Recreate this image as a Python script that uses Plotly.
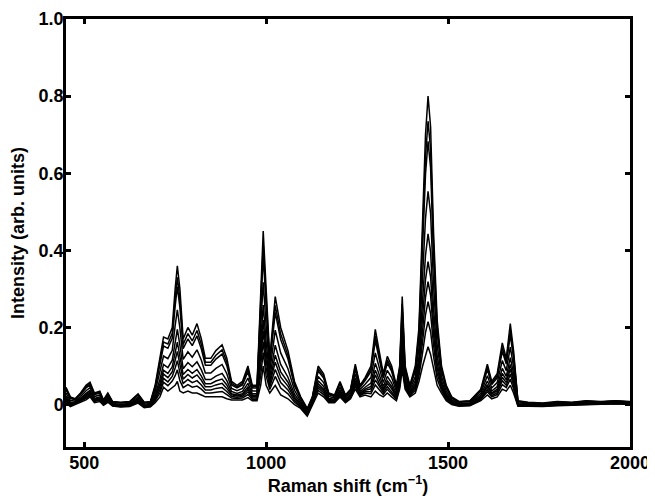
import plotly.graph_objects as go

# Raman shift axis (cm^-1), shared by every spectrum
wavenumber = [450, 462, 475, 490, 505, 516, 528, 543, 553, 565,
              578, 600, 625, 648, 665, 682, 695, 708, 718, 730,
              742, 750, 756, 763, 772, 785, 797, 810, 822, 833,
              848, 862, 879, 892, 905, 920, 935, 950, 962, 975,
              985, 992, 1000, 1010, 1025, 1040, 1060, 1078, 1095, 1113,
              1127, 1143, 1158, 1172, 1188, 1203, 1218, 1232, 1245, 1258,
              1272, 1288, 1300, 1312, 1322, 1333, 1345, 1358, 1367, 1374,
              1382, 1395, 1410, 1420, 1430, 1438, 1445, 1452, 1460, 1470,
              1482, 1495, 1510, 1530, 1560, 1590, 1608, 1620, 1635, 1649,
              1660, 1671, 1680, 1692, 1720, 1760, 1800, 1840, 1880, 1920,
              1960, 2000]

spectrum_01 = [0.045, 0.020, 0.015, 0.030, 0.050, 0.058, 0.030, 0.035, 0.012, 0.030,
               0.008, 0.006, 0.008, 0.028, 0.006, 0.008, 0.050, 0.120, 0.175, 0.170,
               0.200, 0.300, 0.360, 0.300, 0.170, 0.200, 0.180, 0.210, 0.170, 0.120,
               0.120, 0.140, 0.155, 0.120, 0.060, 0.050, 0.060, 0.100, 0.050, 0.050,
               0.300, 0.450, 0.300, 0.120, 0.280, 0.200, 0.140, 0.060, 0.020, -0.010,
               0.020, 0.100, 0.080, 0.030, 0.025, 0.060, 0.025, 0.040, 0.105, 0.050,
               0.070, 0.100, 0.195, 0.130, 0.080, 0.125, 0.100, 0.050, 0.100, 0.280,
               0.100, 0.050, 0.100, 0.200, 0.450, 0.700, 0.800, 0.720, 0.450, 0.220,
               0.100, 0.050, 0.020, 0.008, 0.010, 0.040, 0.105, 0.060, 0.080, 0.160,
               0.120, 0.210, 0.140, 0.010, 0.006, 0.004, 0.008, 0.006, 0.010, 0.008,
               0.010, 0.008]
spectrum_02 = [0.041, 0.018, 0.014, 0.028, 0.046, 0.054, 0.028, 0.032, 0.011, 0.028,
               0.007, 0.005, 0.007, 0.026, 0.005, 0.007, 0.046, 0.110, 0.162, 0.157,
               0.185, 0.275, 0.330, 0.274, 0.156, 0.184, 0.165, 0.192, 0.156, 0.110,
               0.110, 0.128, 0.142, 0.110, 0.055, 0.046, 0.055, 0.092, 0.046, 0.046,
               0.275, 0.415, 0.275, 0.111, 0.257, 0.183, 0.128, 0.054, 0.017, -0.012,
               0.018, 0.093, 0.074, 0.028, 0.023, 0.056, 0.023, 0.038, 0.099, 0.047,
               0.066, 0.092, 0.179, 0.120, 0.074, 0.116, 0.092, 0.046, 0.094, 0.261,
               0.094, 0.047, 0.093, 0.186, 0.415, 0.643, 0.735, 0.661, 0.414, 0.203,
               0.093, 0.046, 0.018, 0.007, 0.009, 0.037, 0.097, 0.056, 0.074, 0.148,
               0.112, 0.194, 0.129, 0.009, 0.005, 0.003, 0.007, 0.005, 0.009, 0.007,
               0.009, 0.007]
spectrum_03 = [0.038, 0.016, 0.012, 0.026, 0.043, 0.051, 0.026, 0.030, 0.010, 0.026,
               0.006, 0.004, 0.006, 0.024, 0.004, 0.006, 0.042, 0.102, 0.152, 0.146,
               0.172, 0.255, 0.306, 0.252, 0.145, 0.170, 0.153, 0.178, 0.144, 0.102,
               0.102, 0.118, 0.131, 0.101, 0.051, 0.043, 0.051, 0.085, 0.043, 0.043,
               0.255, 0.387, 0.255, 0.104, 0.239, 0.169, 0.118, 0.049, 0.015, -0.014,
               0.016, 0.087, 0.069, 0.026, 0.021, 0.053, 0.021, 0.036, 0.093, 0.045,
               0.062, 0.086, 0.166, 0.111, 0.069, 0.108, 0.086, 0.043, 0.089, 0.246,
               0.089, 0.045, 0.087, 0.175, 0.387, 0.597, 0.683, 0.614, 0.385, 0.189,
               0.087, 0.043, 0.016, 0.006, 0.008, 0.035, 0.091, 0.052, 0.069, 0.138,
               0.105, 0.181, 0.120, 0.008, 0.004, 0.002, 0.006, 0.005, 0.008, 0.007,
               0.009, 0.007]
spectrum_04 = [0.030, 0.011, 0.009, 0.021, 0.036, 0.044, 0.021, 0.025, 0.007, 0.021,
               0.003, 0.001, 0.003, 0.019, 0.001, 0.003, 0.033, 0.082, 0.126, 0.119,
               0.141, 0.205, 0.246, 0.199, 0.117, 0.137, 0.123, 0.142, 0.115, 0.082,
               0.082, 0.094, 0.104, 0.080, 0.042, 0.036, 0.042, 0.069, 0.035, 0.035,
               0.205, 0.317, 0.205, 0.086, 0.193, 0.134, 0.093, 0.037, 0.009, -0.018,
               0.012, 0.073, 0.057, 0.021, 0.017, 0.045, 0.017, 0.031, 0.080, 0.039,
               0.053, 0.070, 0.134, 0.090, 0.057, 0.089, 0.070, 0.035, 0.077, 0.208,
               0.077, 0.039, 0.073, 0.147, 0.317, 0.483, 0.553, 0.496, 0.313, 0.155,
               0.073, 0.035, 0.012, 0.003, 0.005, 0.029, 0.075, 0.043, 0.057, 0.114,
               0.088, 0.149, 0.098, 0.005, 0.002, 0.001, 0.004, 0.003, 0.006, 0.005,
               0.007, 0.005]
spectrum_05 = [0.023, 0.006, 0.007, 0.016, 0.029, 0.037, 0.016, 0.020, 0.004, 0.017,
               0.001, -0.001, 0.001, 0.015, -0.002, 0.000, 0.025, 0.065, 0.104, 0.096,
               0.115, 0.163, 0.195, 0.154, 0.093, 0.109, 0.098, 0.111, 0.090, 0.065,
               0.065, 0.074, 0.081, 0.062, 0.034, 0.029, 0.034, 0.055, 0.028, 0.028,
               0.163, 0.258, 0.163, 0.071, 0.154, 0.104, 0.071, 0.027, 0.004, -0.021,
               0.009, 0.062, 0.047, 0.016, 0.014, 0.038, 0.014, 0.026, 0.069, 0.034,
               0.045, 0.056, 0.107, 0.072, 0.047, 0.073, 0.056, 0.028, 0.067, 0.176,
               0.067, 0.034, 0.062, 0.123, 0.258, 0.387, 0.443, 0.396, 0.252, 0.127,
               0.062, 0.028, 0.009, 0.001, 0.003, 0.024, 0.061, 0.035, 0.047, 0.094,
               0.073, 0.122, 0.080, 0.002, 0.001, -0.001, 0.002, 0.002, 0.005, 0.004,
               0.006, 0.004]
spectrum_06 = [0.019, 0.004, 0.005, 0.014, 0.025, 0.033, 0.014, 0.017, 0.003, 0.014,
               0.000, -0.002, -0.001, 0.012, -0.003, -0.001, 0.020, 0.054, 0.089, 0.081,
               0.098, 0.135, 0.162, 0.125, 0.078, 0.091, 0.081, 0.091, 0.074, 0.054,
               0.054, 0.061, 0.066, 0.051, 0.028, 0.025, 0.028, 0.046, 0.024, 0.024,
               0.135, 0.219, 0.135, 0.061, 0.128, 0.085, 0.058, 0.020, 0.000, -0.023,
               0.007, 0.054, 0.040, 0.014, 0.012, 0.034, 0.012, 0.024, 0.062, 0.030,
               0.040, 0.047, 0.089, 0.061, 0.040, 0.062, 0.047, 0.024, 0.060, 0.155,
               0.060, 0.030, 0.054, 0.108, 0.219, 0.324, 0.371, 0.331, 0.212, 0.108,
               0.054, 0.024, 0.007, 0.000, 0.001, 0.020, 0.052, 0.030, 0.040, 0.081,
               0.064, 0.104, 0.067, 0.001, -0.001, -0.002, 0.001, 0.001, 0.003, 0.003,
               0.005, 0.003]
spectrum_07 = [0.015, 0.002, 0.004, 0.012, 0.022, 0.030, 0.012, 0.015, 0.002, 0.012,
               -0.001, -0.003, -0.002, 0.010, -0.004, -0.002, 0.017, 0.046, 0.079, 0.070,
               0.085, 0.115, 0.138, 0.104, 0.066, 0.078, 0.069, 0.077, 0.063, 0.046,
               0.046, 0.051, 0.055, 0.042, 0.025, 0.022, 0.025, 0.039, 0.020, 0.020,
               0.115, 0.191, 0.115, 0.053, 0.110, 0.071, 0.048, 0.016, -0.002, -0.025,
               0.005, 0.048, 0.036, 0.012, 0.010, 0.030, 0.010, 0.022, 0.057, 0.028,
               0.037, 0.041, 0.077, 0.052, 0.036, 0.055, 0.041, 0.020, 0.056, 0.139,
               0.056, 0.028, 0.048, 0.096, 0.191, 0.278, 0.319, 0.283, 0.184, 0.094,
               0.048, 0.020, 0.005, -0.001, 0.000, 0.018, 0.046, 0.027, 0.036, 0.071,
               0.057, 0.092, 0.059, 0.000, -0.001, -0.003, 0.000, 0.000, 0.003, 0.002,
               0.004, 0.002]
spectrum_08 = [0.012, 0.000, 0.003, 0.010, 0.019, 0.027, 0.010, 0.013, 0.001, 0.010,
               -0.002, -0.004, -0.003, 0.008, -0.006, -0.004, 0.013, 0.038, 0.068, 0.059,
               0.073, 0.095, 0.114, 0.083, 0.055, 0.065, 0.057, 0.062, 0.051, 0.038,
               0.038, 0.042, 0.044, 0.034, 0.021, 0.019, 0.021, 0.033, 0.017, 0.017,
               0.095, 0.163, 0.095, 0.046, 0.091, 0.057, 0.038, 0.011, -0.005, -0.026,
               0.004, 0.043, 0.031, 0.010, 0.009, 0.027, 0.009, 0.020, 0.052, 0.025,
               0.033, 0.034, 0.064, 0.044, 0.031, 0.047, 0.034, 0.017, 0.051, 0.124,
               0.051, 0.025, 0.043, 0.085, 0.163, 0.233, 0.267, 0.236, 0.155, 0.081,
               0.043, 0.017, 0.004, -0.002, -0.001, 0.015, 0.039, 0.023, 0.031, 0.062,
               0.050, 0.079, 0.050, -0.002, -0.002, -0.003, -0.001, -0.001, 0.002, 0.001,
               0.003, 0.001]
spectrum_09 = [0.009, -0.003, 0.002, 0.008, 0.016, 0.024, 0.008, 0.011, -0.001, 0.008,
               -0.003, -0.005, -0.004, 0.006, -0.007, -0.005, 0.010, 0.030, 0.058, 0.049,
               0.061, 0.075, 0.090, 0.062, 0.044, 0.052, 0.045, 0.048, 0.040, 0.030,
               0.030, 0.032, 0.034, 0.026, 0.017, 0.016, 0.017, 0.026, 0.014, 0.014,
               0.075, 0.135, 0.075, 0.039, 0.073, 0.043, 0.028, 0.006, -0.007, -0.028,
               0.002, 0.037, 0.026, 0.008, 0.007, 0.024, 0.007, 0.018, 0.047, 0.023,
               0.030, 0.028, 0.051, 0.036, 0.026, 0.040, 0.028, 0.014, 0.046, 0.109,
               0.046, 0.023, 0.037, 0.074, 0.135, 0.187, 0.215, 0.189, 0.126, 0.067,
               0.037, 0.014, 0.002, -0.003, -0.002, 0.013, 0.033, 0.020, 0.026, 0.052,
               0.044, 0.066, 0.041, -0.003, -0.003, -0.004, -0.002, -0.001, 0.001, 0.001,
               0.003, 0.001]
spectrum_10 = [0.005, -0.005, 0.000, 0.005, 0.012, 0.020, 0.005, 0.008, -0.002, 0.006,
               -0.004, -0.006, -0.005, 0.004, -0.008, -0.006, 0.005, 0.020, 0.045, 0.035,
               0.045, 0.050, 0.060, 0.035, 0.030, 0.035, 0.030, 0.030, 0.025, 0.020,
               0.020, 0.020, 0.020, 0.015, 0.012, 0.012, 0.012, 0.018, 0.010, 0.010,
               0.050, 0.100, 0.050, 0.030, 0.050, 0.025, 0.015, 0.000, -0.010, -0.030,
               0.000, 0.030, 0.020, 0.005, 0.005, 0.020, 0.005, 0.015, 0.040, 0.020,
               0.025, 0.020, 0.035, 0.025, 0.020, 0.030, 0.020, 0.010, 0.040, 0.090,
               0.040, 0.020, 0.030, 0.060, 0.100, 0.130, 0.150, 0.130, 0.090, 0.050,
               0.030, 0.010, 0.000, -0.004, -0.003, 0.010, 0.025, 0.015, 0.020, 0.040,
               0.035, 0.050, 0.030, -0.004, -0.004, -0.005, -0.003, -0.002, 0.000, 0.000,
               0.002, 0.000]

spectra = [spectrum_01, spectrum_02, spectrum_03, spectrum_04, spectrum_05,
           spectrum_06, spectrum_07, spectrum_08, spectrum_09, spectrum_10]

x_ticks = [500, 1000, 1500, 2000]
y_ticks = [0, 0.2, 0.4, 0.6, 0.8, 1.0]
y_tick_labels = ["0", "0.2", "0.4", "0.6", "0.8", "1.0"]

fig = go.Figure()
for s in spectra:
    fig.add_trace(go.Scatter(x=wavenumber, y=s, mode="lines",
                             line=dict(color="black", width=1.5),
                             showlegend=False, hoverinfo="skip"))

axis_style = dict(showline=True, linecolor="black", linewidth=2.5,
                  mirror="ticks", ticks="inside", ticklen=5, tickwidth=2.5,
                  tickcolor="black", showgrid=False, zeroline=False,
                  automargin=False,
                  tickfont=dict(size=18, color="black", weight="bold"))

# the page body adds an 8px margin, so the figure is a bit smaller than the window
fig.update_layout(
    width=647, height=490, autosize=False,
    margin=dict(l=58, r=25, t=11, b=51),
    paper_bgcolor="white", plot_bgcolor="white",
    font=dict(family="Liberation Sans, Arial, sans-serif", color="black"),
    xaxis=dict(range=[450, 2000], tickvals=x_ticks, ticklabelstandoff=-2,
               title=dict(text="Raman shift (cm<sup>\u22121</sup>)", standoff=4,
                          font=dict(size=18, weight="bold")),
               **axis_style),
    yaxis=dict(range=[-0.11, 1.0], tickvals=y_ticks, ticktext=y_tick_labels,
               ticklabelstandoff=-4,
               title=dict(text="Intensity (arb. units)", standoff=10,
                          font=dict(size=18, weight="bold")),
               **axis_style),
)

fig.write_html("out.html")
